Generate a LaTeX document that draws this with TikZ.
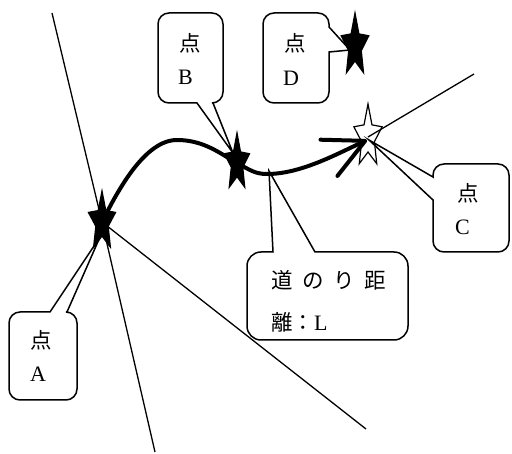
\documentclass[tikz,border=0pt]{standalone}
\usepackage{fontspec}
\setmainfont{Liberation Serif}
\newfontfamily\jp{Noto Sans CJK JP}
\usetikzlibrary{shapes.geometric,arrows.meta}
\begin{document}
\begin{tikzpicture}[x=1pt,y=-1pt,
  thinline/.style={line width=1.3pt},
  callout/.style={line width=1.5pt},
  curve/.style={line width=4pt, line cap=round, line join=round},
  starshape/.style={star, star points=5, star point ratio=2.2, inner sep=0pt, line width=1.2pt, draw=black},
  lbl/.style={inner sep=0pt, anchor=west, font=\fontsize{22}{22}\selectfont},
  jlbl/.style={inner sep=0pt, anchor=west, font=\jp\fontsize{21.5}{21.5}\selectfont},
]
\useasboundingbox (0,0) rectangle (512,454);
% stars
\node[starshape, fill=black, minimum size=62pt, shift={(102,222)}, xscale=0.46] (sA) {};
\node[starshape, fill=black, minimum size=60pt, shift={(237,163)}, xscale=0.44] (sB) {};
\node[starshape, fill=white, minimum size=66pt, shift={(368,137)}, xscale=0.45] (sC) {};
\node[starshape, fill=black, minimum size=66pt, shift={(355,46)}, xscale=0.44] (sD) {};
% free ends
\coordinate (t1) at (52,13);
\coordinate (b1) at (155,452);
\coordinate (e2) at (366,429);
\coordinate (e3) at (474,74);
\coordinate (ctip) at (367,140);
\coordinate (tipA) at (100,237);
\coordinate (tipB) at (233,153);
\coordinate (tipC) at (369,140);
\coordinate (tipD) at (350,50);
\coordinate (tipL) at (269,171);
% thin lines
\draw[thinline] (t1) -- (sA.center) -- (b1);
\draw[thinline] (sA.center) -- (e2);
\draw[thinline] (sC.center) -- (e3);
% thick path
\draw[curve, -{Straight Barb[length=40pt,width=40pt,round]}] (sA.center) .. controls (118,190) and (145,140) .. (177,140)
  .. controls (205,140) and (222,155) .. (sB.center)
  .. controls (250,170) and (255,174) .. (267,174)
  .. controls (300,174) and (335,155) .. (ctip);
% callouts
\draw[callout, rounded corners=11pt] (197,103) -- (158,103) -- (158,13) -- (223,13) -- (223,103) [sharp corners] -- (213,103) -- (tipB) -- cycle;
\draw[callout, rounded corners=11pt] (329,52) -- (329,103) -- (263,103) -- (263,13) -- (329,13) [sharp corners] -- (329,27) -- (tipD) -- cycle;
\draw[callout, rounded corners=11pt] (433,200) -- (433,252) -- (509,252) -- (509,164) -- (433,164) [sharp corners] -- (433,177) -- (tipC) -- cycle;
\draw[callout, rounded corners=11pt] (67,312) -- (77,312) -- (77,400) -- (9,400) -- (9,312) [sharp corners] -- (50,312) -- (tipA) -- cycle;
\draw[callout, rounded corners=14pt] (315,252) -- (408,252) -- (408,340) -- (247,340) -- (247,252) [sharp corners] -- (273,252) -- (tipL) -- cycle;
% texts
\node[jlbl] (tB1) at (179,43) {点};
\node[lbl] (tB2) at (178,77) {B};
\node[jlbl] (tD1) at (284,43) {点};
\node[lbl] (tD2) at (283,78) {D};
\node[jlbl] (tC1) at (457,193) {点};
\node[lbl] (tC2) at (455,227) {C};
\node[jlbl] (tA1) at (30,340) {点};
\node[lbl] (tA2) at (30,374) {A};
\node[jlbl] (tL1) at (271,280) {\hbox to 115pt{道\hfil の\hfil り\hfil 距}};
\node[lbl] (tL2) at (271,322) {{\jp\fontsize{21.5}{21.5}\selectfont 離：}L};
\end{tikzpicture}
\end{document}
